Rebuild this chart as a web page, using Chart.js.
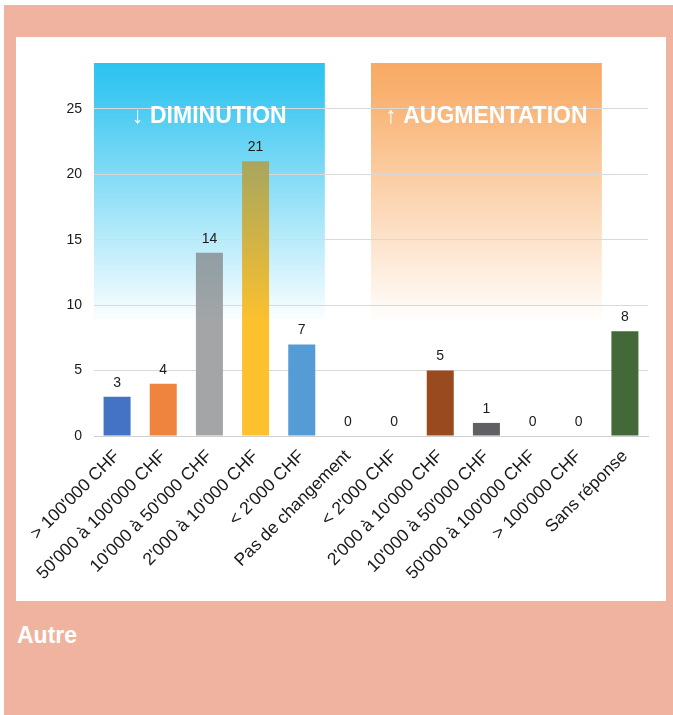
<!DOCTYPE html>
<html>
<head>
<meta charset="utf-8">
<script src="https://cdn.jsdelivr.net/npm/chart.js@4/dist/chart.umd.min.js"></script>
<style>
  html, body { margin: 0; padding: 0; background: #ffffff; }
  #outer { position: absolute; left: 4px; top: 5px; width: 669px; height: 710px; background: #EFB3A0; }
  #panel { position: absolute; left: 12px; top: 32px; width: 650px; height: 564px; background: #ffffff; }
  #title { position: absolute; left: 13px; top: 617px; color: #ffffff; font: bold 23px "Liberation Sans", Arial, sans-serif; }
  canvas { display: block; }
</style>
</head>
<body>
<div id="outer">
  <div id="panel"><canvas id="c" width="650" height="564"></canvas></div>
  <div id="title">Autre</div>
</div>
<script>
// ---- data ----
const categories = ["> 100'000 CHF", "50'000 à 100'000 CHF", "10'000 à 50'000 CHF", "2'000 à 10'000 CHF", "< 2'000 CHF", "Pas de changement", "< 2'000 CHF", "2'000 à 10'000 CHF", "10'000 à 50'000 CHF", "50'000 à 100'000 CHF", "> 100'000 CHF", "Sans réponse"];
const values = [3, 4, 14, 21, 7, 0, 0, 5, 1, 0, 0, 8];
const barColors = ["#4472C4", "#EF843E", "#A3A5A7", "#FDC12D", "#559BD5", "#70AD47", "#264478", "#9A4A1F", "#606064", "#997300", "#255E91", "#426937"];
const yTicks = [0, 5, 10, 15, 20, 25];
const groupLabels = ["↓ DIMINUTION", "↑ AUGMENTATION"];
const groupFrom = [0, 6];
const groupTo = [4, 10];
const groupColors = [[45, 195, 240], [248, 170, 100]];
const fadeValue = 8.6;   // value where the header panels fade out
const yMax = 28.5;
const overlay = [62, 132, 153];

function rgb(c) { return 'rgb(' + c.map(v => Math.round(v)).join(',') + ')'; }
function hexToRgb(h) { const n = parseInt(h.slice(1), 16); return [(n >> 16) & 255, (n >> 8) & 255, n & 255]; }
function mix(a, b, t) { return a.map((v, i) => v * (1 - t) + b[i] * t); }
function inGroup(i) { for (let g = 0; g < groupFrom.length; g++) if (i >= groupFrom[g] && i <= groupTo[g]) return g; return -1; }

function barBg(ctx) {
  const chart = ctx.chart;
  const i = ctx.dataIndex;
  const base = barColors[i];
  const area = chart.chartArea;
  if (!area || inGroup(i) < 0) return base;
  const y = chart.scales.y;
  const g = chart.ctx.createLinearGradient(0, area.top, 0, y.getPixelForValue(fadeValue));
  const b = hexToRgb(base);
  g.addColorStop(0, rgb(mix(b, overlay, 0.72)));
  g.addColorStop(1, rgb(b));
  return g;
}

const panelsPlugin = {
  id: 'panels',
  beforeDraw(chart) {
    const { ctx, chartArea } = chart;
    const x = chart.scales.x, y = chart.scales.y;
    const step = x.getPixelForValue(1) - x.getPixelForValue(0);
    const bottom = y.getPixelForValue(fadeValue);
    for (let g = 0; g < groupFrom.length; g++) {
      const left = x.getPixelForValue(groupFrom[g]) - step / 2;
      const right = x.getPixelForValue(groupTo[g]) + step / 2;
      const grad = ctx.createLinearGradient(0, chartArea.top, 0, bottom);
      const c = groupColors[g];
      grad.addColorStop(0, rgb(c));
      grad.addColorStop(0.12, rgb(mix(c, [255, 255, 255], 0.08)));
      grad.addColorStop(1, 'rgba(255,255,255,1)');
      ctx.save();
      ctx.fillStyle = grad;
      ctx.fillRect(left, chartArea.top, right - left, bottom - chartArea.top);
      ctx.restore();
    }
  },
  afterDraw(chart) {
    const { ctx } = chart;
    const x = chart.scales.x, y = chart.scales.y;
    const ty = y.getPixelForValue(25) + 8;
    ctx.save();
    ctx.fillStyle = '#ffffff';
    ctx.font = 'bold 23px "Liberation Sans", Arial, sans-serif';
    ctx.textAlign = 'center';
    ctx.textBaseline = 'middle';
    for (let g = 0; g < groupFrom.length; g++) {
      const cx = (x.getPixelForValue(groupFrom[g]) + x.getPixelForValue(groupTo[g])) / 2;
      ctx.fillText(groupLabels[g], cx, ty);
    }
    ctx.restore();
  }
};

const valueLabels = {
  id: 'valueLabels',
  afterDatasetsDraw(chart) {
    const { ctx } = chart;
    const meta = chart.getDatasetMeta(0);
    ctx.save();
    ctx.fillStyle = '#1a1a1a';
    ctx.font = '14px "Liberation Sans", Arial, sans-serif';
    ctx.textAlign = 'center';
    ctx.textBaseline = 'bottom';
    meta.data.forEach((el, i) => {
      ctx.fillText(String(values[i]), el.x, el.y - 7);
    });
    ctx.restore();
  }
};

new Chart(document.getElementById('c'), {
  type: 'bar',
  data: {
    labels: categories,
    datasets: [{
      data: values,
      backgroundColor: barBg,
      borderWidth: 0,
      categoryPercentage: 1,
      barPercentage: 0.585
    }]
  },
  options: {
    responsive: false,
    animation: false,
    events: [],
    layout: { padding: { top: 26, right: 18, left: 0, bottom: 0 } },
    plugins: { legend: { display: false }, tooltip: { enabled: false } },
    scales: {
      x: {
        grid: { display: false, drawTicks: false },
        border: { display: true, color: '#d0d0d0', width: 1 },
        ticks: {
          minRotation: 45, maxRotation: 45, autoSkip: false,
          color: '#1a1a1a', padding: 10,
          font: { family: '"Liberation Sans", Arial, sans-serif', size: 17.5 }
        },
        afterFit(s) { s.height = 165; }
      },
      y: {
        min: 0, max: yMax,
        grid: { color: '#d9d9d9', drawTicks: false, lineWidth: 1 },
        border: { display: false },
        afterBuildTicks(s) { s.ticks = yTicks.map(v => ({ value: v })); },
        ticks: {
          color: '#1a1a1a', padding: 12,
          font: { family: '"Liberation Sans", Arial, sans-serif', size: 14 }
        },
        afterFit(s) { s.width = 78; }
      }
    }
  },
  plugins: [panelsPlugin, valueLabels]
});
</script>
</body>
</html>
